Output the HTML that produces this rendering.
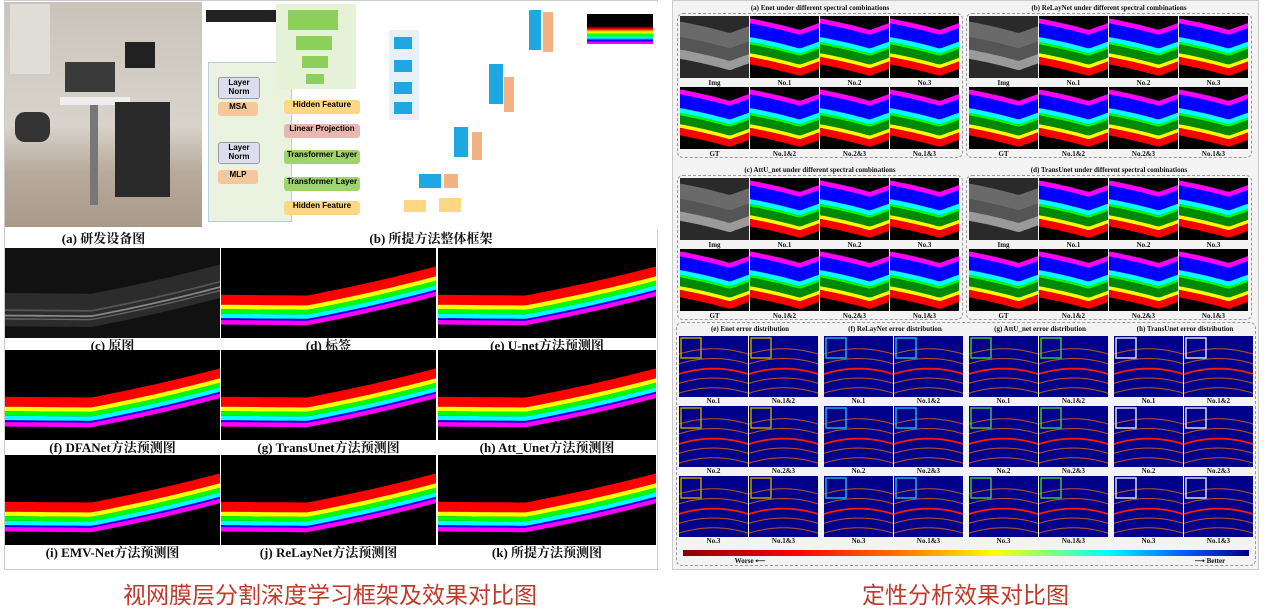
<!DOCTYPE html>
<html><head><meta charset="utf-8">
<style>
body{margin:0;width:1270px;height:610px;background:#fff;position:relative;overflow:hidden;font-family:"Liberation Serif","Noto Serif CJK SC",serif}
.abs{position:absolute}
.lbl{position:absolute;font-weight:bold;font-size:13px;line-height:14px;color:#111;text-align:center;white-space:nowrap}
.slbl{position:absolute;font-weight:bold;font-size:7px;line-height:9px;color:#111;text-align:center;white-space:nowrap}
.box{position:absolute;border-radius:3px;font-size:8px;font-weight:bold;text-align:center;font-family:"Liberation Sans",sans-serif}
</style></head><body>
<div class="abs" style="left:4px;top:0;width:654px;height:570px;border:1px solid #ccc;box-sizing:border-box"></div>
<div class="abs" style="left:672px;top:0;width:587px;height:570px;border:1px solid #ccc;background:#f3f3f3;box-sizing:border-box"></div>

<div class="abs" style="left:5px;top:2px;width:197px;height:225px;background:linear-gradient(180deg,#c9c4bb 0%,#d8d3cb 55%,#b7ab9c 75%,#a99a88 100%)">
 <div class="abs" style="left:120px;top:40px;width:30px;height:26px;background:#222"></div>
 <div class="abs" style="left:60px;top:60px;width:50px;height:30px;background:#3a3a3a"></div>
 <div class="abs" style="left:55px;top:95px;width:70px;height:8px;background:#eee"></div>
 <div class="abs" style="left:85px;top:103px;width:8px;height:100px;background:#777"></div>
 <div class="abs" style="left:110px;top:100px;width:55px;height:95px;background:#2a2a2a"></div>
 <div class="abs" style="left:10px;top:110px;width:35px;height:30px;background:#333;border-radius:10px"></div>
 <div class="abs" style="left:5px;top:2px;width:40px;height:70px;background:#e0ddd7"></div>
</div>
<div class="lbl" style="left:5px;top:232px;width:197px">(a) 研发设备图</div>

<div class="abs" style="left:204px;top:2px;width:454px;height:228px;background:#fff">
 <div class="abs" style="left:2px;top:8px;width:70px;height:12px;background:#222"></div>
 <div class="abs" style="left:4px;top:60px;width:82px;height:158px;background:#eaf3e0;border:1px solid #bcd"></div>
 <div class="box" style="left:14px;top:75px;width:40px;height:20px;background:#dde;border:1px solid #99a">Layer Norm</div>
 <div class="box" style="left:14px;top:100px;width:40px;height:14px;background:#f6c79a">MSA</div>
 <div class="box" style="left:14px;top:140px;width:40px;height:20px;background:#dde;border:1px solid #99a">Layer Norm</div>
 <div class="box" style="left:14px;top:168px;width:40px;height:14px;background:#f6c79a">MLP</div>
 <div class="abs" style="left:72px;top:2px;width:80px;height:85px;background:#e6f2d8"></div>
 <div class="abs" style="left:84px;top:8px;width:50px;height:20px;background:#8ccf5a"></div>
 <div class="abs" style="left:92px;top:34px;width:36px;height:14px;background:#8ccf5a"></div>
 <div class="abs" style="left:98px;top:54px;width:26px;height:12px;background:#8ccf5a"></div>
 <div class="abs" style="left:102px;top:72px;width:18px;height:10px;background:#8ccf5a"></div>
 <div class="box" style="left:80px;top:98px;width:76px;height:14px;background:#fdd783">Hidden Feature</div>
 <div class="box" style="left:80px;top:122px;width:76px;height:14px;background:#e8b7b0">Linear Projection</div>
 <div class="box" style="left:80px;top:148px;width:76px;height:14px;background:#9fd36b">Transformer Layer</div>
 <div class="box" style="left:80px;top:175px;width:76px;height:14px;background:#9fd36b">Transformer Layer</div>
 <div class="box" style="left:80px;top:199px;width:76px;height:14px;background:#fdd783">Hidden Feature</div>
 <div class="abs" style="left:185px;top:28px;width:30px;height:90px;background:#e6f0f6"></div>
 <div class="abs" style="left:190px;top:35px;width:18px;height:12px;background:#1ea7e0"></div>
 <div class="abs" style="left:190px;top:58px;width:18px;height:12px;background:#1ea7e0"></div>
 <div class="abs" style="left:190px;top:80px;width:18px;height:12px;background:#1ea7e0"></div>
 <div class="abs" style="left:190px;top:100px;width:18px;height:12px;background:#1ea7e0"></div>
 <div class="abs" style="left:325px;top:8px;width:12px;height:40px;background:#1ea7e0"></div>
 <div class="abs" style="left:339px;top:10px;width:10px;height:40px;background:#f4b183"></div>
 <div class="abs" style="left:383px;top:12px;width:66px;height:30px;background:linear-gradient(180deg,#000 0,#000 40%,#f00 50%,#ff0 60%,#0f0 70%,#0ff 80%,#00f 88%,#f0f 95%)"></div>
 <div class="abs" style="left:285px;top:62px;width:14px;height:40px;background:#1ea7e0"></div>
 <div class="abs" style="left:300px;top:75px;width:10px;height:35px;background:#f4b183"></div>
 <div class="abs" style="left:250px;top:125px;width:14px;height:30px;background:#1ea7e0"></div>
 <div class="abs" style="left:268px;top:130px;width:10px;height:28px;background:#f4b183"></div>
 <div class="abs" style="left:215px;top:172px;width:22px;height:14px;background:#1ea7e0"></div>
 <div class="abs" style="left:240px;top:172px;width:14px;height:14px;background:#f4b183"></div>
 <div class="abs" style="left:200px;top:198px;width:22px;height:12px;background:#fdd783"></div>
 <div class="abs" style="left:235px;top:196px;width:22px;height:14px;background:#fdd783"></div>
</div>
<div class="lbl" style="left:204px;top:232px;width:454px">(b) 所提方法整体框架</div>

<div class="abs" style="left:0;top:576px;width:660px;text-align:center;font-family:'Liberation Sans','Noto Sans CJK SC',sans-serif;font-size:23px;color:#c0392b">视网膜层分割深度学习框架及效果对比图</div>
<div class="abs" style="left:672px;top:576px;width:587px;text-align:center;font-family:'Liberation Sans','Noto Sans CJK SC',sans-serif;font-size:23px;color:#c0392b">定性分析效果对比图</div>

<script>
const leftLabels=["(c) 原图","(d) 标签","(e) U-net方法预测图","(f) DFANet方法预测图","(g) TransUnet方法预测图","(h) Att_Unet方法预测图","(i) EMV-Net方法预测图","(j) ReLayNet方法预测图","(k) 所提方法预测图"];
const topLabels=["(a) Enet under different spectral combinations","(b) ReLayNet under different spectral combinations","(c) AttU_net under different spectral combinations","(d) TransUnet under different spectral combinations"];
const subLabels=["Img","No.1","No.2","No.3","GT","No.1&2","No.2&3","No.1&3"];
const errLabels=["(e) Enet error distribution","(f) ReLayNet error distribution","(g) AttU_net error distribution","(h) TransUnet error distribution"];
const errSub=["No.1","No.1&2","No.2","No.2&3","No.3","No.1&3"];
const NS="http://www.w3.org/2000/svg";
function mk(tag,attrs,parent){const e=document.createElementNS(NS,tag);for(const k in attrs)e.setAttribute(k,attrs[k]);parent.appendChild(e);return e;}
function div(cls,style,txt){const d=document.createElement('div');d.className=cls;d.style.cssText=style;if(txt)d.textContent=txt;document.body.appendChild(d);return d;}
function bandPath(w,h,f,o1,o2){let p="";const n=30;for(let i=0;i<=n;i++){const x=w*i/n;p+=(i?"L":"M")+x.toFixed(1)+" "+((f(i/n)+o1)*h).toFixed(1);}for(let i=n;i>=0;i--){const x=w*i/n;p+="L"+x.toFixed(1)+" "+((f(i/n)+o2)*h).toFixed(1);}return p+"Z";}
function svgAt(x,y,w,h,bg,name){const s=document.createElementNS(NS,'svg');s.setAttribute('width',w);s.setAttribute('height',h);s.style.cssText=`position:absolute;left:${x}px;top:${y}px;background:${bg}`;document.body.appendChild(s);return s;}
const colX=[5,221,438],colW=[215,215,218],rowY=[248,350,455],imgH=90;
const lc=t=>t<0.4?0.52+0.02*t:0.528-(t-0.4)*0.45-0.15*(t-0.4)*(t-0.4);
const lbands=[["#ff0000",0,0.11],["#ffff00",0.11,0.16],["#00ff00",0.16,0.21],["#00ffff",0.21,0.26],["#0000ff",0.26,0.28],["#ff00ff",0.28,0.33]];
for(let r=0;r<3;r++)for(let c=0;c<3;c++){const i=r*3+c;const s=svgAt(colX[c],rowY[r],colW[c],imgH,i===0?"#111":"#000","image-"+i);
 if(i===0){mk('path',{d:bandPath(colW[c],imgH,lc,-0.02,0.35),fill:"#2c2c2c"},s);mk('path',{d:bandPath(colW[c],imgH,lc,0.22,0.24),fill:"#888"},s);mk('path',{d:bandPath(colW[c],imgH,lc,0.26,0.275),fill:"#666"},s);mk('path',{d:bandPath(colW[c],imgH,lc,0.16,0.18),fill:"#555"},s);}
 else{for(const b of lbands)mk('path',{d:bandPath(colW[c],imgH,lc,b[1],b[2]),fill:b[0]},s);}
 const l=div('lbl',`left:${colX[c]}px;top:${rowY[r]+imgH+1}px;width:${colW[c]}px`,leftLabels[i]);}
const gX=[677,966],gY=[3,165];
const rc=t=>t<0.72?0.04+t*0.2+0.08*t*t:0.226-(t-0.72)*0.4;
const rbands=[["#ff00ff",0,0.08],["#0000ff",0.08,0.3],["#00ffff",0.3,0.38],["#00ff00",0.38,0.42],["#008800",0.42,0.56],["#ffff00",0.56,0.62],["#ff0000",0.62,0.74]];
for(let g=0;g<4;g++){const gx=gX[g%2],gy=gY[Math.floor(g/2)];
 const fr=div('abs',`left:${gx}px;top:${gy+10}px;width:286px;height:145px;border:1px dashed #999;border-radius:6px;box-sizing:border-box`);
 const t=div('slbl',`left:${gx}px;top:${gy+1}px;width:286px`,topLabels[g]);
 for(let k=0;k<8;k++){const cx=gx+3+(k%4)*70,cy=gy+13+Math.floor(k/4)*71;const s=svgAt(cx,cy,69,62,k===0?"#2a2a2a":"#000","seg-"+g+"-"+k);
  if(k===0){mk('path',{d:bandPath(69,62,rc,0.05,0.3),fill:"#6a6a6a"},s);mk('path',{d:bandPath(69,62,rc,0.3,0.5),fill:"#555"},s);mk('path',{d:bandPath(69,62,rc,0.5,0.65),fill:"#9a9a9a"},s);}
  else for(const b of rbands)mk('path',{d:bandPath(69,62,rc,b[1],b[2]),fill:b[0]},s);
  const l=div('slbl',`left:${cx}px;top:${cy+63}px;width:69px`,subLabels[k]);}}
const ef=div('abs','left:676px;top:322px;width:580px;height:244px;border:1px dashed #999;border-radius:6px;box-sizing:border-box');
const boxCol=["#b5a000","#22b0d0","#40c040","#dddddd"];
for(let g=0;g<4;g++){const gx=679+g*145;
 const t=div('slbl',`left:${gx}px;top:325px;width:142px`,errLabels[g]);
 for(let k=0;k<6;k++){const cx=gx+(k%2)*70,cy=336+Math.floor(k/2)*70;const s=svgAt(cx,cy,69,61,"#00008b","error-map-"+g+"-"+k);
  for(let j=0;j<5;j++)mk('path',{d:bandPath(69,61,t2=>0.2+j*0.16+0.35*(t2-0.5)*(t2-0.5),0,j==2?0.03:0.018),fill:j==2?"#ff1a00":"#b05030"},s);
  mk('rect',{x:2,y:2,width:20,height:20,fill:"none",stroke:boxCol[g],"stroke-width":1.5},s);
  const l=div('slbl',`left:${cx}px;top:${cy+61}px;width:69px`,errSub[k]);}}
const cb=div('abs','left:683px;top:550px;width:566px;height:6px;background:linear-gradient(90deg,#8b0000,#ff0000 20%,#ff8000 40%,#ffff00 55%,#80ff80 65%,#00ffff 75%,#0060ff 88%,#000080)');
const w1=div('slbl','left:720px;top:557px;width:60px;color:#111','Worse ⟵');
const b1=div('slbl','left:1180px;top:557px;width:60px;color:#111','⟶ Better');
</script>
</body></html>
